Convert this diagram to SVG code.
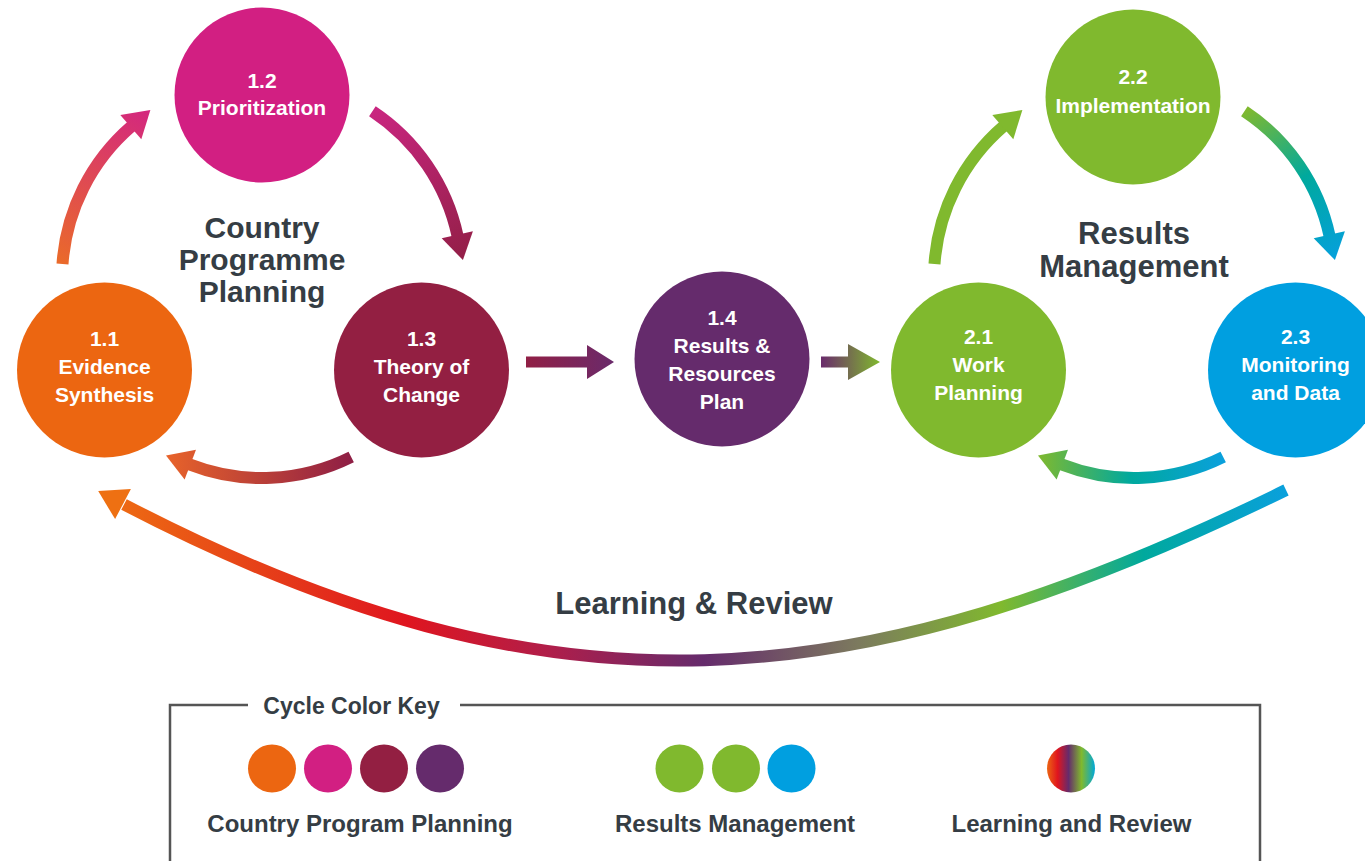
<svg xmlns="http://www.w3.org/2000/svg" width="1365" height="861" viewBox="0 0 1365 861">
<defs>
<style>
.nt{font-family:"Liberation Sans",Arial,sans-serif;font-weight:bold;font-size:21px;fill:#ffffff;text-anchor:middle}
.tt{font-family:"Liberation Sans",Arial,sans-serif;font-weight:bold;font-size:31px;fill:#353d44;text-anchor:middle}
.kt{font-family:"Liberation Sans",Arial,sans-serif;font-weight:bold;font-size:24px;fill:#353d44;text-anchor:middle}
.arc{fill:none;stroke-width:12}
</style>
<linearGradient id="g1" gradientUnits="userSpaceOnUse" x1="62" y1="264" x2="150" y2="110"><stop offset="0" stop-color="#ea6a2a"/><stop offset="1" stop-color="#d3277f"/></linearGradient>
<linearGradient id="g2" gradientUnits="userSpaceOnUse" x1="372" y1="111" x2="463" y2="260"><stop offset="0" stop-color="#c92680"/><stop offset="1" stop-color="#931f47"/></linearGradient>
<linearGradient id="g3" gradientUnits="userSpaceOnUse" x1="351" y1="457" x2="166" y2="455"><stop offset="0" stop-color="#8f1f45"/><stop offset="1" stop-color="#e8632a"/></linearGradient>
<linearGradient id="g5" gradientUnits="userSpaceOnUse" x1="372" y1="111" x2="463" y2="260"><stop offset="0" stop-color="#80b92e"/><stop offset="0.5" stop-color="#00a99d"/><stop offset="1" stop-color="#05a0dc"/></linearGradient>
<linearGradient id="g6" gradientUnits="userSpaceOnUse" x1="351" y1="457" x2="166" y2="455"><stop offset="0" stop-color="#0aa0dc"/><stop offset="0.5" stop-color="#00a99d"/><stop offset="1" stop-color="#80b92e"/></linearGradient>
<linearGradient id="gA" gradientUnits="userSpaceOnUse" x1="526" y1="0" x2="614" y2="0"><stop offset="0" stop-color="#911f45"/><stop offset="1" stop-color="#6a2a6b"/></linearGradient>
<linearGradient id="gB" gradientUnits="userSpaceOnUse" x1="821" y1="0" x2="880" y2="0"><stop offset="0" stop-color="#6a2b6c"/><stop offset="1" stop-color="#80b92e"/></linearGradient>
<linearGradient id="gL" gradientUnits="userSpaceOnUse" x1="1286" y1="0" x2="98" y2="0">
<stop offset="0" stop-color="#0aa0dc"/><stop offset="0.12" stop-color="#00a99d"/><stop offset="0.24" stop-color="#80b92e"/><stop offset="0.36" stop-color="#7c7a5e"/><stop offset="0.49" stop-color="#652b6c"/><stop offset="0.62" stop-color="#b01e4a"/><stop offset="0.74" stop-color="#df151f"/><stop offset="1" stop-color="#ee7012"/></linearGradient>
<linearGradient id="gK" x1="0" y1="0" x2="1" y2="0"><stop offset="0" stop-color="#ec6613"/><stop offset="0.22" stop-color="#e0151e"/><stop offset="0.45" stop-color="#652b6c"/><stop offset="0.72" stop-color="#80b92e"/><stop offset="1" stop-color="#00a8d8"/></linearGradient>
</defs>
<rect width="1365" height="861" fill="#ffffff"/>

<g id="connectors">
<g id="left-cycle-arrows">
<path class="arc" stroke="url(#g1)" d="M62.5,264 A200,200 0 0 1 131.5,126.3"/>
<polygon fill="url(#g1)" points="120.3,115 150.4,110 141.3,139.2"/>
<path class="arc" stroke="url(#g2)" d="M372.4,111.2 A200,200 0 0 1 457.5,235.7"/>
<polygon fill="url(#g2)" points="472.9,231.2 462.9,260.1 441.7,238.2"/>
<path class="arc" stroke="url(#g3)" d="M351.2,457 A200,200 0 0 1 189.4,464.4"/>
<polygon fill="url(#g3)" points="184.6,479.6 166,455.4 196,449.8"/>
</g>
<g id="right-cycle-arrows" transform="translate(872,0)">
<path class="arc" stroke="#80b92e" d="M62.5,264 A200,200 0 0 1 131.5,126.3"/>
<polygon fill="#80b92e" points="120.3,115 150.4,110 141.3,139.2"/>
<path class="arc" stroke="url(#g5)" d="M372.4,111.2 A200,200 0 0 1 457.5,235.7"/>
<polygon fill="url(#g5)" points="472.9,231.2 462.9,260.1 441.7,238.2"/>
<path class="arc" stroke="url(#g6)" d="M351.2,457 A200,200 0 0 1 189.4,464.4"/>
<polygon fill="url(#g6)" points="184.6,479.6 166,455.4 196,449.8"/>
</g>
<polygon id="arrow-13-14" fill="url(#gA)" points="526,356.5 587,356.5 587,345 614,362 587,379 587,367.5 526,367.5"/>
<polygon id="arrow-14-21" fill="url(#gB)" points="821,356.5 848,356.5 848,344 880,362 848,380 848,367.5 821,367.5"/>
<g id="learning-review-arrow">
<path fill="none" stroke="url(#gL)" stroke-width="12" d="M1286,490 C856,701 553,728 124,504.5"/>
<polygon fill="#ee7012" points="130.9,488.9 98.2,491.1 115.1,519.1"/>
</g>
</g>

<g id="node-1-1">
<circle cx="104.5" cy="370" r="87.5" fill="#ec6611"/>
<text class="nt" x="104.5" y="346">1.1</text>
<text class="nt" x="104.5" y="374">Evidence</text>
<text class="nt" x="104.5" y="402">Synthesis</text>
</g>
<g id="node-1-2">
<circle cx="262" cy="95" r="87.5" fill="#d21f82"/>
<text class="nt" x="262" y="88">1.2</text>
<text class="nt" x="262" y="115">Prioritization</text>
</g>
<g id="node-1-3">
<circle cx="421.5" cy="370" r="87.5" fill="#931f42"/>
<text class="nt" x="421.5" y="346">1.3</text>
<text class="nt" x="421.5" y="374">Theory of</text>
<text class="nt" x="421.5" y="402">Change</text>
</g>
<g id="node-1-4">
<circle cx="722" cy="359" r="87.5" fill="#652b6c"/>
<text class="nt" x="722" y="325">1.4</text>
<text class="nt" x="722" y="353">Results &amp;</text>
<text class="nt" x="722" y="381">Resources</text>
<text class="nt" x="722" y="409">Plan</text>
</g>
<g id="node-2-1">
<circle cx="978.5" cy="370" r="87.5" fill="#80b92e"/>
<text class="nt" x="978.5" y="344">2.1</text>
<text class="nt" x="978.5" y="372">Work</text>
<text class="nt" x="978.5" y="400">Planning</text>
</g>
<g id="node-2-2">
<circle cx="1133" cy="97" r="87.5" fill="#80b92e"/>
<text class="nt" x="1133" y="84">2.2</text>
<text class="nt" x="1133" y="113">Implementation</text>
</g>
<g id="node-2-3">
<circle cx="1295.5" cy="370" r="87.5" fill="#009fe0"/>
<text class="nt" x="1295.5" y="344">2.3</text>
<text class="nt" x="1295.5" y="372">Monitoring</text>
<text class="nt" x="1295.5" y="400">and Data</text>
</g>

<g id="titles">
<text class="tt" x="262" y="238" style="font-size:30px">Country</text>
<text class="tt" x="262" y="270" style="font-size:30px">Programme</text>
<text class="tt" x="262" y="302" style="font-size:30px">Planning</text>
<text class="tt" x="1134" y="244">Results</text>
<text class="tt" x="1134" y="277">Management</text>
<text class="tt" x="694" y="614">Learning &amp; Review</text>
</g>

<g id="key">
<path d="M248,705 H170 V861 M460,705 H1260 V861" fill="none" stroke="#555555" stroke-width="2.5"/>
<text class="kt" x="351.5" y="714" style="font-size:23px">Cycle Color Key</text>
<circle cx="272" cy="768.5" r="24" fill="#ec6611"/>
<circle cx="328" cy="768.5" r="24" fill="#d21f82"/>
<circle cx="384" cy="768.5" r="24" fill="#931f42"/>
<circle cx="440" cy="768.5" r="24" fill="#652b6c"/>
<circle cx="679.5" cy="768.5" r="24" fill="#80b92e"/>
<circle cx="736" cy="768.5" r="24" fill="#80b92e"/>
<circle cx="791.5" cy="768.5" r="24" fill="#009fe0"/>
<circle cx="1071" cy="768.5" r="24" fill="url(#gK)"/>
<text class="kt" x="360" y="832">Country Program Planning</text>
<text class="kt" x="735" y="832">Results Management</text>
<text class="kt" x="1071.5" y="832">Learning and Review</text>
</g>
</svg>
